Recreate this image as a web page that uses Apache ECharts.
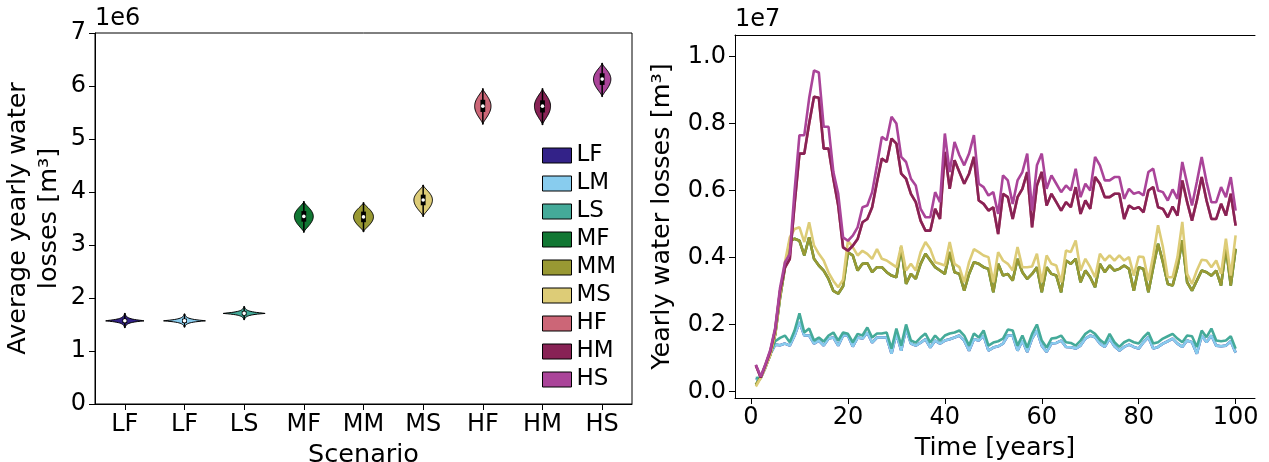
<!DOCTYPE html>
<html>
<head>
<meta charset="utf-8">
<script src="https://cdn.jsdelivr.net/npm/echarts@6/dist/echarts.min.js"></script>
<style>
  html, body { margin: 0; padding: 0; background: #fff; }
  #main { width: 1269px; height: 462px; }
</style>
</head>
<body>
<div id="main"></div>
<script>
// scenario names, tick labels (the figure labels the 2nd violin "LF" too)
var scenarios = ['LF', 'LM', 'LS', 'MF', 'MM', 'MS', 'HF', 'HM', 'HS'];
var scenarioTicks = ['LF', 'LF', 'LS', 'MF', 'MM', 'MS', 'HF', 'HM', 'HS'];
var colors = ['#332288', '#88CCEE', '#44AA99', '#117733', '#999933', '#DDCC77', '#CC6677', '#882255', '#AA4499'];

// violin summaries, units of 1e6 m3
var violinMedian = [1.57, 1.57, 1.71, 3.54, 3.53, 3.85, 5.62, 5.62, 6.13];
var violinMin    = [1.44, 1.45, 1.59, 3.24, 3.25, 3.54, 5.28, 5.27, 5.80];
var violinMax    = [1.71, 1.70, 1.84, 3.82, 3.80, 4.13, 5.95, 5.95, 6.43];
var violinQ1     = [1.53, 1.53, 1.67, 3.44, 3.43, 3.75, 5.51, 5.50, 6.02];
var violinQ3     = [1.61, 1.61, 1.75, 3.64, 3.63, 3.95, 5.74, 5.73, 6.24];

// yearly losses, years 1..100, units of 1e7 m3
var LF = [0.035,0.040,0.072,0.112,0.140,0.138,0.143,0.137,0.167,0.207,0.167,0.167,0.143,0.152,0.137,0.158,0.161,0.137,0.167,0.167,
0.134,0.161,0.158,0.176,0.146,0.161,0.161,0.161,0.113,0.173,0.122,0.188,0.143,0.137,0.146,0.156,0.131,0.152,0.143,0.152,
0.156,0.161,0.167,0.152,0.122,0.156,0.152,0.167,0.122,0.131,0.135,0.143,0.167,0.167,0.122,0.152,0.118,0.158,0.182,0.137,
0.118,0.143,0.145,0.152,0.133,0.132,0.128,0.137,0.158,0.167,0.162,0.143,0.133,0.158,0.135,0.122,0.133,0.140,0.133,0.128,
0.147,0.162,0.128,0.133,0.143,0.150,0.158,0.143,0.133,0.152,0.147,0.113,0.167,0.147,0.167,0.137,0.135,0.137,0.150,0.116];
var LM = [0.035,0.040,0.072,0.112,0.140,0.138,0.143,0.137,0.167,0.207,0.167,0.167,0.143,0.152,0.137,0.158,0.161,0.137,0.167,0.167,
0.134,0.161,0.158,0.176,0.146,0.161,0.161,0.161,0.113,0.173,0.122,0.188,0.143,0.137,0.146,0.156,0.131,0.152,0.143,0.152,
0.156,0.161,0.167,0.152,0.122,0.156,0.152,0.167,0.122,0.131,0.135,0.143,0.167,0.167,0.122,0.152,0.118,0.158,0.182,0.137,
0.118,0.143,0.145,0.152,0.133,0.132,0.128,0.137,0.158,0.167,0.162,0.143,0.133,0.158,0.135,0.122,0.133,0.140,0.133,0.128,
0.147,0.162,0.128,0.133,0.143,0.150,0.158,0.143,0.133,0.152,0.147,0.113,0.167,0.147,0.167,0.137,0.135,0.137,0.150,0.116];
var LS = [0.040,0.042,0.075,0.115,0.150,0.160,0.167,0.147,0.182,0.233,0.176,0.188,0.152,0.161,0.149,0.167,0.176,0.152,0.176,0.172,
0.147,0.172,0.167,0.191,0.161,0.173,0.173,0.176,0.128,0.188,0.137,0.200,0.152,0.146,0.161,0.173,0.146,0.167,0.152,0.167,
0.173,0.176,0.182,0.167,0.137,0.173,0.161,0.182,0.137,0.146,0.150,0.158,0.185,0.182,0.137,0.167,0.131,0.172,0.200,0.152,
0.131,0.158,0.160,0.167,0.147,0.145,0.137,0.152,0.172,0.182,0.172,0.154,0.143,0.172,0.147,0.133,0.147,0.154,0.147,0.143,
0.162,0.176,0.143,0.147,0.158,0.165,0.172,0.158,0.147,0.167,0.165,0.133,0.182,0.162,0.188,0.152,0.150,0.152,0.165,0.128];
var MF = [0.020,0.042,0.075,0.110,0.170,0.280,0.370,0.450,0.456,0.450,0.406,0.460,0.396,0.376,0.361,0.336,0.300,0.292,0.314,0.415,
0.406,0.361,0.381,0.383,0.356,0.371,0.371,0.356,0.346,0.341,0.431,0.321,0.351,0.336,0.381,0.411,0.391,0.371,0.361,0.351,
0.416,0.356,0.351,0.301,0.351,0.386,0.381,0.371,0.366,0.296,0.381,0.346,0.351,0.331,0.396,0.356,0.336,0.351,0.371,0.296,
0.371,0.351,0.346,0.296,0.391,0.381,0.396,0.326,0.361,0.341,0.311,0.381,0.356,0.376,0.361,0.366,0.376,0.366,0.301,0.371,
0.366,0.296,0.371,0.441,0.386,0.321,0.316,0.371,0.451,0.326,0.301,0.331,0.361,0.356,0.346,0.361,0.316,0.431,0.316,0.426];
var MM = [0.020,0.042,0.075,0.110,0.170,0.280,0.370,0.450,0.456,0.450,0.406,0.460,0.396,0.376,0.361,0.336,0.300,0.292,0.314,0.415,
0.406,0.361,0.381,0.383,0.356,0.371,0.371,0.356,0.346,0.341,0.431,0.321,0.351,0.336,0.381,0.411,0.391,0.371,0.361,0.351,
0.416,0.356,0.351,0.301,0.351,0.386,0.381,0.371,0.366,0.296,0.381,0.346,0.351,0.331,0.396,0.356,0.336,0.351,0.371,0.296,
0.371,0.351,0.346,0.296,0.391,0.381,0.396,0.326,0.361,0.341,0.311,0.381,0.356,0.376,0.361,0.366,0.376,0.366,0.301,0.371,
0.366,0.296,0.371,0.441,0.386,0.321,0.316,0.371,0.451,0.326,0.301,0.331,0.361,0.356,0.346,0.361,0.316,0.431,0.316,0.426];
var MS = [0.015,0.040,0.072,0.110,0.175,0.290,0.385,0.460,0.485,0.490,0.446,0.505,0.436,0.411,0.391,0.355,0.330,0.311,0.334,0.450,
0.431,0.406,0.420,0.411,0.396,0.425,0.396,0.391,0.381,0.371,0.436,0.361,0.381,0.361,0.416,0.446,0.425,0.386,0.381,0.376,
0.446,0.381,0.371,0.326,0.386,0.425,0.416,0.406,0.401,0.326,0.416,0.391,0.381,0.361,0.431,0.371,0.371,0.373,0.411,0.326,
0.406,0.381,0.376,0.326,0.421,0.416,0.451,0.361,0.396,0.371,0.341,0.411,0.391,0.406,0.391,0.406,0.391,0.401,0.346,0.403,
0.401,0.331,0.406,0.496,0.431,0.341,0.341,0.401,0.506,0.351,0.321,0.361,0.393,0.391,0.371,0.391,0.351,0.456,0.346,0.466];
var HF = [0.078,0.042,0.080,0.120,0.185,0.300,0.370,0.395,0.560,0.710,0.710,0.800,0.880,0.877,0.725,0.725,0.635,0.555,0.430,0.420,
0.435,0.455,0.505,0.515,0.550,0.625,0.695,0.685,0.755,0.740,0.650,0.635,0.590,0.565,0.510,0.480,0.480,0.545,0.515,0.715,
0.605,0.690,0.655,0.620,0.650,0.700,0.570,0.560,0.540,0.550,0.470,0.590,0.580,0.515,0.580,0.605,0.655,0.490,0.615,0.655,
0.555,0.590,0.565,0.540,0.565,0.550,0.610,0.530,0.570,0.545,0.640,0.620,0.580,0.580,0.590,0.590,0.515,0.555,0.545,0.550,
0.535,0.600,0.610,0.550,0.545,0.520,0.552,0.525,0.630,0.565,0.510,0.570,0.640,0.570,0.515,0.515,0.560,0.525,0.590,0.495];
var HM = [0.078,0.042,0.080,0.120,0.185,0.300,0.370,0.395,0.560,0.710,0.710,0.800,0.880,0.877,0.725,0.725,0.635,0.555,0.430,0.420,
0.435,0.455,0.505,0.515,0.550,0.625,0.695,0.685,0.755,0.740,0.650,0.635,0.590,0.565,0.510,0.480,0.480,0.545,0.515,0.715,
0.605,0.690,0.655,0.620,0.650,0.700,0.570,0.560,0.540,0.550,0.470,0.590,0.580,0.515,0.580,0.605,0.655,0.490,0.615,0.655,
0.555,0.590,0.565,0.540,0.565,0.550,0.610,0.530,0.570,0.545,0.640,0.620,0.580,0.580,0.590,0.590,0.515,0.555,0.545,0.550,
0.535,0.600,0.610,0.550,0.545,0.520,0.552,0.525,0.630,0.565,0.510,0.570,0.640,0.570,0.515,0.515,0.560,0.525,0.590,0.495];
var HS = [0.080,0.045,0.082,0.125,0.190,0.310,0.385,0.410,0.600,0.765,0.765,0.875,0.958,0.952,0.790,0.790,0.655,0.590,0.460,0.450,
0.465,0.490,0.550,0.555,0.595,0.675,0.760,0.750,0.820,0.800,0.700,0.685,0.635,0.615,0.545,0.520,0.520,0.595,0.565,0.770,
0.655,0.745,0.705,0.675,0.710,0.765,0.620,0.610,0.585,0.595,0.530,0.645,0.630,0.560,0.630,0.655,0.710,0.540,0.675,0.710,
0.605,0.645,0.620,0.595,0.615,0.600,0.665,0.580,0.620,0.600,0.700,0.675,0.630,0.630,0.640,0.640,0.575,0.605,0.590,0.595,
0.585,0.655,0.665,0.600,0.595,0.570,0.603,0.575,0.685,0.620,0.555,0.625,0.700,0.625,0.565,0.565,0.610,0.580,0.640,0.540];
var timeTicks = [0, 20, 40, 60, 80, 100];
var lossTicks = [0, 0.2, 0.4, 0.6, 0.8, 1.0];

var lines = [LF, LM, LS, MF, MM, MS, HF, HM, HS];
var FONT = 'DejaVu Sans';

var chartDom = document.getElementById('main');
var myChart = echarts.init(chartDom);

function renderViolin(params, api) {
    var i = api.value(0);
    var med = api.value(1), lo = api.value(2), hi = api.value(3);
    var q1 = api.value(4), q3 = api.value(5);
    var cx = api.coord([i, med])[0];
    var yMed = api.coord([i, med])[1];
    var yLo = api.coord([i, lo])[1];
    var yHi = api.coord([i, hi])[1];
    var h = yLo - yHi;
    var hw = Math.min(24, 290 / h);
    var low = h < 20; // narrow spread -> flat, spiky violin
    var right = [], left = [];
    var n = 40;
    for (var k = 0; k <= n; k++) {
        var y = yHi + h * k / n;
        var t = (y - yMed) / (y < yMed ? (yMed - yHi) : (yLo - yMed));
        var w = low ? hw * Math.exp(-Math.abs(t) * 4.2) : hw * Math.pow(Math.max(0, 1 - t * t), 1.5);
        if (k === 0 || k === n) w = 0.4;
        right.push([cx + w, y]);
        left.unshift([cx - w, y]);
    }
    var yQ1 = api.coord([i, q1])[1], yQ3 = api.coord([i, q3])[1];
    return {
        type: 'group',
        children: [
            { type: 'polygon', shape: { points: right.concat(left) },
              style: { fill: colors[i], stroke: '#000', lineWidth: 1 } },
            { type: 'line', shape: { x1: cx, y1: yHi, x2: cx, y2: yLo },
              style: { stroke: '#000', lineWidth: 1.5 } },
            { type: 'rect', shape: { x: cx - 2.4, y: yQ3, width: 4.8, height: yQ1 - yQ3 },
              style: { fill: '#000' } },
            { type: 'circle', shape: { cx: cx, cy: yMed, r: 1.8 },
              style: { fill: '#fff' } }
        ]
    };
}

var series = [];
scenarios.forEach(function (name, i) {
    series.push({
        name: name,
        type: 'custom',
        xAxisIndex: 0,
        yAxisIndex: 0,
        itemStyle: { color: colors[i] },
        renderItem: renderViolin,
        data: [[i, violinMedian[i], violinMin[i], violinMax[i], violinQ1[i], violinQ3[i]]],
        z: 3
    });
});
lines.forEach(function (vals, i) {
    series.push({
        name: scenarios[i] + ' yearly',
        type: 'line',
        xAxisIndex: 1,
        yAxisIndex: 1,
        showSymbol: false,
        symbol: 'none',
        lineStyle: { color: colors[i], width: 2.6 },
        itemStyle: { color: colors[i] },
        data: vals.map(function (v, k) { return [k + 1, v]; }),
        z: 2 + i
    });
});

var axisText = { color: '#000', fontFamily: FONT, fontSize: 24 };
var nameText = { color: '#000', fontFamily: FONT, fontSize: 25.5 };

var option = {
    animation: false,
    backgroundColor: '#fff',
    textStyle: { fontFamily: FONT },
    grid: [
        { left: 95, top: 33, width: 537, height: 371, show: true, borderColor: '#000', borderWidth: 1, outerBoundsMode: 'none', containLabel: false },
        { left: 735, top: 35, width: 520, height: 363, outerBoundsMode: 'none', containLabel: false }
    ],
    legend: {
        data: scenarios,
        orient: 'vertical',
        left: 537,
        top: 139,
        icon: 'rect',
        itemWidth: 29,
        itemHeight: 15,
        itemGap: 5,
        itemStyle: { borderColor: '#000', borderWidth: 1 },
        textStyle: { color: '#000', fontFamily: FONT, fontSize: 23, padding: [0, 0, 0, 0] }
    },
    graphic: [
        { type: 'text', left: 95, top: 7, style: { text: '1e6', fill: '#000', font: '24px "DejaVu Sans"' } },
        { type: 'text', left: 735, top: 8, style: { text: '1e7', fill: '#000', font: '24px "DejaVu Sans"' } }
    ],
    xAxis: [
        {
            gridIndex: 0,
            type: 'category',
            data: scenarioTicks,
            boundaryGap: true,
            name: 'Scenario',
            nameLocation: 'middle',
            nameGap: 35,
            nameTextStyle: Object.assign({ verticalAlign: 'top' }, nameText),
            axisLine: { show: true, lineStyle: { color: '#000', width: 1 } },
            axisTick: { show: true, alignWithLabel: true, length: 6, lineStyle: { color: '#000' } },
            axisLabel: Object.assign({ margin: 9 }, axisText),
            splitLine: { show: false }
        },
        {
            gridIndex: 1,
            type: 'value',
            min: -3.3,
            max: 104,
            name: 'Time [years]',
            nameLocation: 'middle',
            nameGap: 28,
            nameTextStyle: Object.assign({ verticalAlign: 'top' }, nameText),
            axisLine: { show: true, onZero: false, lineStyle: { color: '#000', width: 1 } },
            axisTick: { show: true, length: 6, lineStyle: { color: '#000' }, customValues: timeTicks },
            axisLabel: Object.assign({ margin: 8, customValues: timeTicks }, axisText),
            splitLine: { show: false }
        },
        {
            gridIndex: 1,
            type: 'value',
            position: 'top',
            min: -3.3,
            max: 104,
            axisLine: { show: true, onZero: false, lineStyle: { color: '#000', width: 1 } },
            axisTick: { show: false },
            axisLabel: { show: false },
            splitLine: { show: false }
        }
    ],
    yAxis: [
        {
            gridIndex: 0,
            type: 'value',
            min: 0,
            max: 7,
            interval: 1,
            name: 'Average yearly water\nlosses [m³]',
            nameLocation: 'middle',
            nameGap: 30,
            nameTextStyle: Object.assign({ lineHeight: 31, align: 'center' }, nameText),
            axisLine: { show: true, lineStyle: { color: '#000', width: 1 } },
            axisTick: { show: true, length: 6, lineStyle: { color: '#000' } },
            axisLabel: Object.assign({ margin: 9 }, axisText),
            splitLine: { show: false }
        },
        {
            gridIndex: 1,
            type: 'value',
            min: -0.0194,
            max: 1.064,
            name: 'Yearly water losses [m³]',
            nameLocation: 'middle',
            nameGap: 60,
            nameTextStyle: nameText,
            axisLine: { show: true, onZero: false, lineStyle: { color: '#000', width: 1 } },
            axisTick: { show: true, length: 6, lineStyle: { color: '#000' }, customValues: lossTicks },
            axisLabel: Object.assign({
                margin: 9,
                customValues: lossTicks,
                formatter: function (v) { return v.toFixed(1); }
            }, axisText),
            splitLine: { show: false }
        }
    ],
    series: series
};

option && myChart.setOption(option);
</script>
</body>
</html>
